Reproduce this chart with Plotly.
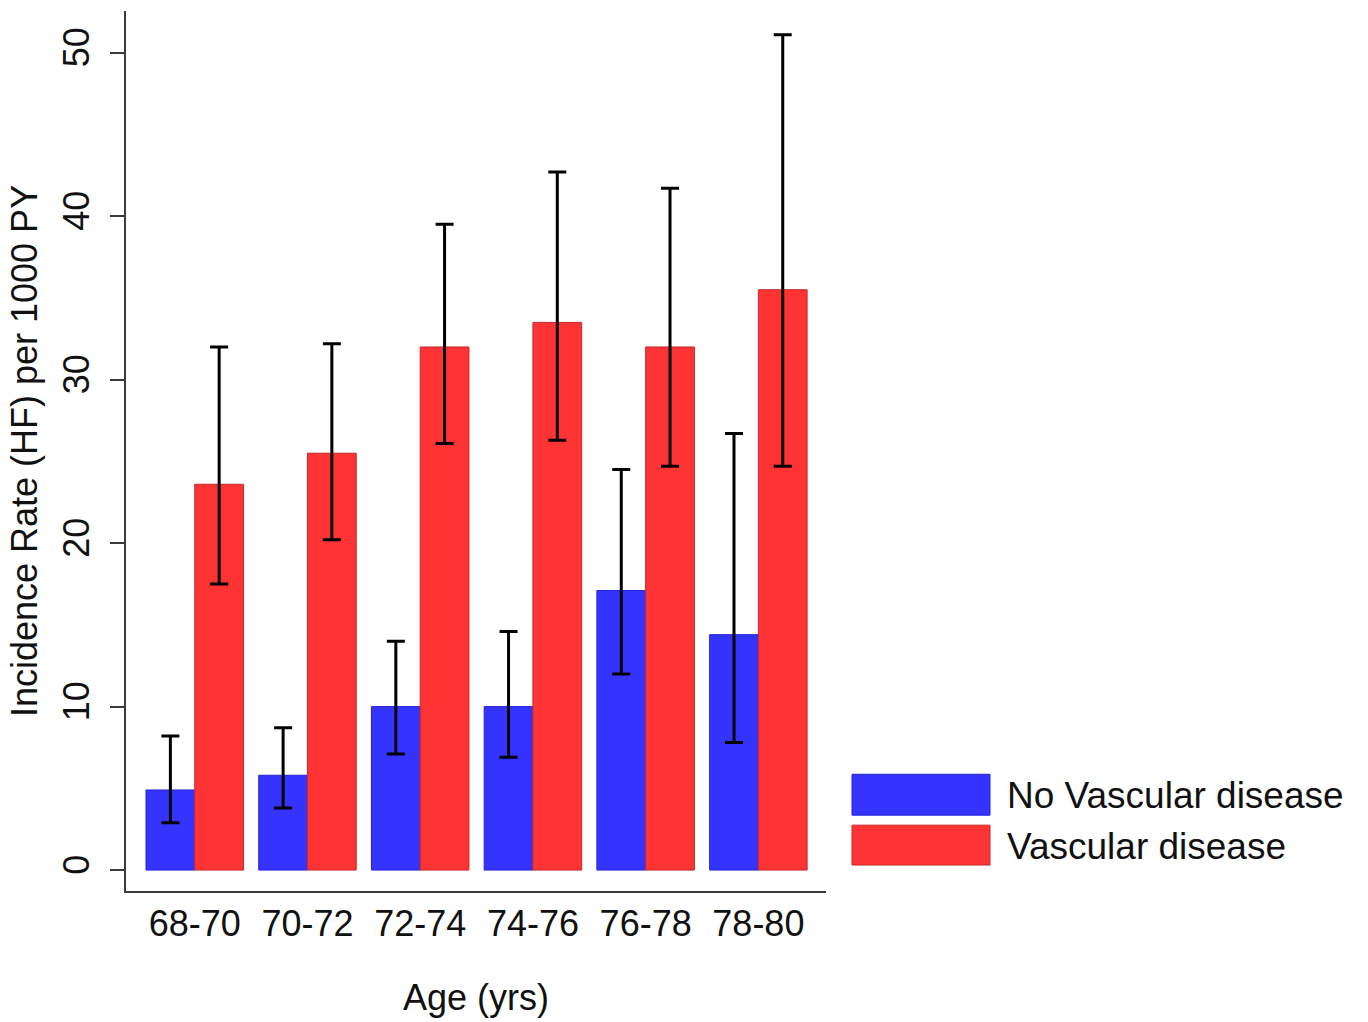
import plotly.graph_objects as go

# ---- data ----
age_groups = ["68-70", "70-72", "72-74", "74-76", "76-78", "78-80"]
series_names = ["No Vascular disease", "Vascular disease"]

no_vasc = [4.9, 5.8, 10.0, 10.0, 17.1, 14.4]
no_vasc_low = [2.9, 3.8, 7.1, 6.9, 12.0, 7.8]
no_vasc_high = [8.2, 8.7, 14.0, 14.6, 24.5, 26.7]

vasc = [23.6, 25.5, 32.0, 33.5, 32.0, 35.5]
vasc_low = [17.5, 20.2, 26.1, 26.3, 24.7, 24.7]
vasc_high = [32.0, 32.2, 39.5, 42.7, 41.7, 51.1]

y_ticks = [0, 10, 20, 30, 40, 50]

# ---- style ----
BLUE = "#3434fe"
BLUE_EDGE = "#2424d8"
RED = "#fe3434"
RED_EDGE = "#c82828"
AXIS = "#3a3a3a"
TXT = "#111111"
FONT = "Liberation Sans, Arial, sans-serif"
FS = 36
FS_LEG = 37

W, H = 1368, 1022
ML, MR, MT, MB = 126, 542, 11, 129
PW = W - ML - MR
PH = H - MT - MB


def px_x(px):
    return (px - ML) / PW


def px_y(py):
    return (H - MB - py) / PH


def err(vals, lo, hi):
    return dict(
        type="data",
        symmetric=False,
        array=[h - v for v, h in zip(vals, hi)],
        arrayminus=[v - l for v, l in zip(vals, lo)],
        color="black",
        thickness=3,
        width=9,
    )


fig = go.Figure()
fig.add_trace(go.Bar(
    x=age_groups, y=no_vasc, name=series_names[0],
    marker=dict(color=BLUE, line=dict(color=BLUE_EDGE, width=1)),
    error_y=err(no_vasc, no_vasc_low, no_vasc_high),
))
fig.add_trace(go.Bar(
    x=age_groups, y=vasc, name=series_names[1],
    marker=dict(color=RED, line=dict(color=RED_EDGE, width=1)),
    error_y=err(vasc, vasc_low, vasc_high),
))

fig.update_layout(
    width=W, height=H, autosize=False,
    margin=dict(l=ML, r=MR, t=MT, b=MB, pad=0),
    paper_bgcolor="white", plot_bgcolor="white",
    barmode="group", bargap=0.135, bargroupgap=0,
    showlegend=False,
    font=dict(family=FONT, size=FS, color=TXT),
)

fig.update_xaxes(
    type="category", range=[-0.61, 5.6],
    showline=True, linecolor=AXIS, linewidth=2, mirror=False,
    ticks="", showgrid=False, zeroline=False,
    tickfont=dict(size=FS, color=TXT), ticklabelstandoff=0,
    title=dict(text="Age (yrs)", font=dict(size=FS, color=TXT), standoff=42),
)
fig.update_yaxes(
    range=[-1.28, 52.55], tickvals=y_ticks,
    showline=True, linecolor=AXIS, linewidth=2, mirror=False,
    ticks="outside", ticklen=14, tickwidth=2, tickcolor=AXIS,
    tickangle=-90, showgrid=False, zeroline=False,
    tickfont=dict(size=FS, color=TXT), ticklabelstandoff=7,
    title=dict(text="Incidence Rate (HF) per 1000 PY", font=dict(size=FS, color=TXT), standoff=7),
)

# custom legend (large swatches as in the original)
legend_items = [
    (series_names[0], BLUE, BLUE_EDGE, 776, 817),
    (series_names[1], RED, RED_EDGE, 827, 867),
]
for name, fill, edge, top, bot in legend_items:
    fig.add_shape(
        type="rect", xref="paper", yref="paper",
        x0=px_x(852), x1=px_x(990), y0=px_y(bot), y1=px_y(top),
        fillcolor=fill, line=dict(color=edge, width=1),
    )
    fig.add_annotation(
        xref="paper", yref="paper", x=px_x(1005), y=px_y((top + bot) / 2 + 1),
        xanchor="left", yanchor="middle", showarrow=False,
        text=name, font=dict(size=FS_LEG, color=TXT, family=FONT),
    )

fig.write_html("out.html")
